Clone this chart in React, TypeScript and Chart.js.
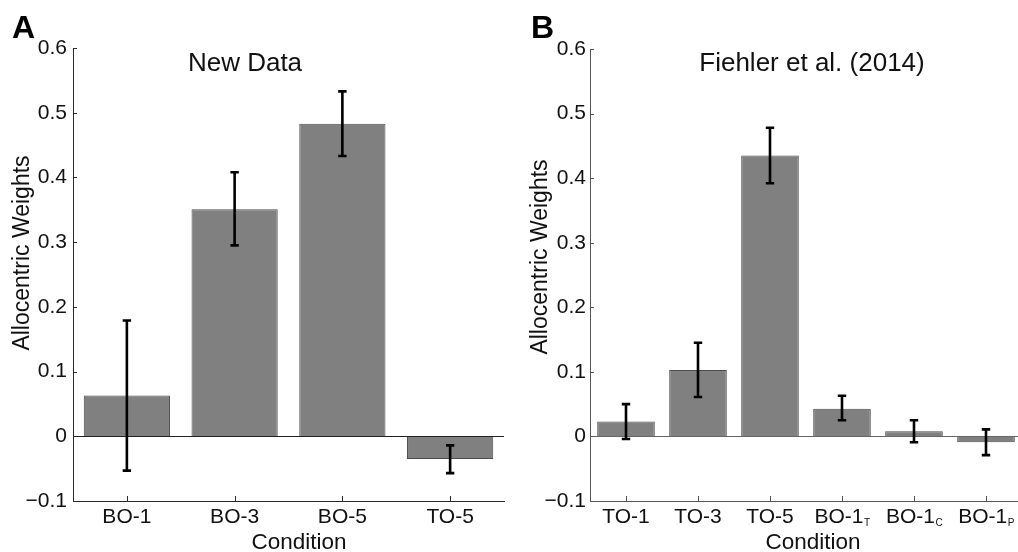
import React, { useEffect, useRef } from "react";
import { Chart, registerables } from "chart.js";

Chart.register(...registerables);

// ---------- data ----------
const conditionsA = ["BO-1", "BO-3", "BO-5", "TO-5"];
const weightsA = [0.063, 0.351, 0.483, -0.035];
const errLowA = [-0.053, 0.295, 0.433, -0.057];
const errHighA = [0.179, 0.408, 0.533, -0.014];

const conditionsB = ["TO-1", "TO-3", "TO-5", "BO-1_T", "BO-1_C", "BO-1_P"];
const weightsB = [0.023, 0.103, 0.435, 0.043, 0.008, -0.009];
const errLowB = [-0.004, 0.061, 0.392, 0.025, -0.009, -0.029];
const errHighB = [0.05, 0.145, 0.478, 0.063, 0.025, 0.011];

const yTicks = [-0.1, 0, 0.1, 0.2, 0.3, 0.4, 0.5, 0.6];
const yMin = -0.1;
const yMax = 0.6;

const FONT = "'Liberation Sans', Arial, Helvetica, sans-serif";
const TEXT = "#111";

type PanelDef = {
  letter: string;
  title: string;
  labels: string[];
  values: number[];
  low: number[];
  high: number[];
  width: number;
  left: number;
  yAxisWidth: number;
  padRight: number;
  padTop: number;
  yTickPad: number;
  axisColor: string;
  zeroColor: string;
  letterX: number;
  titleX: number;
  xTitleX: number;
  yTitleX: number;
  yTitleY: number;
};

const panels: PanelDef[] = [
  {
    letter: "A",
    title: "New Data",
    labels: conditionsA,
    values: weightsA,
    low: errLowA,
    high: errHighA,
    width: 509,
    left: 0,
    yAxisWidth: 73,
    padRight: 5,
    padTop: 48,
    yTickPad: 6,
    axisColor: "#2a2a2a",
    zeroColor: "#222",
    letterX: 12,
    titleX: 245,
    xTitleX: 299,
    yTitleX: 29,
    yTitleY: 253,
  },
  {
    letter: "B",
    title: "Fiehler et al. (2014)",
    labels: conditionsB,
    values: weightsB,
    low: errLowB,
    high: errHighB,
    width: 520,
    left: 509,
    yAxisWidth: 81,
    padRight: 7,
    padTop: 49,
    yTickPad: 4,
    axisColor: "#555",
    zeroColor: "#666",
    letterX: 22,
    titleX: 303,
    xTitleX: 304,
    yTitleX: 38,
    yTitleY: 257,
  },
];

function fmtTick(v: number): string {
  if (v === 0) return "0";
  if (v < 0) return "\u2212" + Math.abs(v).toFixed(1);
  return v.toFixed(1);
}

function drawCatLabel(ctx: CanvasRenderingContext2D, text: string, cx: number, baseline: number) {
  const [main, sub] = text.split("_");
  const mainFont = `21px ${FONT}`;
  const subFont = `10px ${FONT}`;
  ctx.font = mainFont;
  const wm = ctx.measureText(main).width;
  let ws = 0;
  if (sub) {
    ctx.font = subFont;
    ws = ctx.measureText(sub).width;
  }
  const x0 = cx - (wm + ws) / 2;
  ctx.textAlign = "left";
  ctx.textBaseline = "alphabetic";
  ctx.font = mainFont;
  ctx.fillText(main, x0, baseline);
  if (sub) {
    ctx.font = subFont;
    ctx.fillText(sub, x0 + wm + 0.5, baseline + 3);
  }
}

function makePlugin(p: PanelDef) {
  return {
    id: "decor" + p.letter,
    afterDatasetsDraw(chart: any) {
      const ctx: CanvasRenderingContext2D = chart.ctx;
      const x = chart.scales.x;
      const y = chart.scales.y;
      const area = chart.chartArea;
      ctx.save();
      // zero line
      const y0 = Math.round(y.getPixelForValue(0)) + 0.5;
      ctx.strokeStyle = p.zeroColor;
      ctx.lineWidth = 1;
      ctx.beginPath();
      ctx.moveTo(area.left, y0);
      ctx.lineTo(area.right, y0);
      ctx.stroke();
      // inward ticks
      ctx.strokeStyle = p.axisColor;
      ctx.beginPath();
      yTicks.forEach((v) => {
        const py = Math.round(y.getPixelForValue(v)) + 0.5;
        ctx.moveTo(area.left, py);
        ctx.lineTo(area.left + 4, py);
      });
      p.labels.forEach((_, i) => {
        const px = Math.round(x.getPixelForValue(i)) + 0.5;
        ctx.moveTo(px, area.bottom);
        ctx.lineTo(px, area.bottom - 5);
      });
      ctx.stroke();
      // error bars
      ctx.strokeStyle = "#000";
      ctx.lineWidth = 2.6;
      ctx.lineCap = "butt";
      p.labels.forEach((_, i) => {
        const px = x.getPixelForValue(i);
        const yl = y.getPixelForValue(p.low[i]);
        const yh = y.getPixelForValue(p.high[i]);
        ctx.beginPath();
        ctx.moveTo(px, yl);
        ctx.lineTo(px, yh);
        ctx.moveTo(px - 4.2, yl);
        ctx.lineTo(px + 4.2, yl);
        ctx.moveTo(px - 4.2, yh);
        ctx.lineTo(px + 4.2, yh);
        ctx.stroke();
      });
      ctx.restore();
    },
    afterDraw(chart: any) {
      const ctx: CanvasRenderingContext2D = chart.ctx;
      const x = chart.scales.x;
      ctx.save();
      ctx.fillStyle = TEXT;
      // category labels
      p.labels.forEach((lab, i) => {
        drawCatLabel(ctx, lab, x.getPixelForValue(i), 523);
      });
      // panel letter
      ctx.textAlign = "left";
      ctx.textBaseline = "alphabetic";
      ctx.font = `bold 32px ${FONT}`;
      ctx.fillStyle = "#000";
      ctx.fillText(p.letter, p.letterX, 38);
      ctx.fillStyle = TEXT;
      // title
      ctx.textAlign = "center";
      ctx.font = `26px ${FONT}`;
      ctx.fillText(p.title, p.titleX, 70.5);
      // x title
      ctx.font = `22.5px ${FONT}`;
      ctx.fillText("Condition", p.xTitleX, 549);
      // y title
      ctx.save();
      ctx.translate(p.yTitleX, p.yTitleY);
      ctx.rotate(-Math.PI / 2);
      ctx.textAlign = "center";
      ctx.font = `23px ${FONT}`;
      ctx.fillText("Allocentric Weights", 0, 0);
      ctx.restore();
      ctx.restore();
    },
  };
}

function Panel({ p }: { p: PanelDef }) {
  const ref = useRef<HTMLCanvasElement | null>(null);
  useEffect(() => {
    if (!ref.current) return;
    const chart = new Chart(ref.current, {
      type: "bar",
      data: {
        labels: p.labels,
        datasets: [
          {
            data: p.values,
            backgroundColor: "#808080",
            borderColor: "#4d4d4d",
            borderWidth: 1,
            barPercentage: 0.8,
            categoryPercentage: 1,
          },
        ],
      },
      options: {
        animation: false,
        responsive: false,
        devicePixelRatio: 1,
        layout: { padding: { left: 0, right: p.padRight, top: p.padTop, bottom: 0 } },
        plugins: {
          legend: { display: false },
          tooltip: { enabled: false },
          title: { display: false },
        },
        scales: {
          x: {
            type: "category",
            offset: true,
            grid: { display: false, drawTicks: false },
            border: { display: true, color: p.axisColor, width: 1 },
            ticks: { display: false },
            afterFit: (s: any) => {
              s.height = 51;
            },
          },
          y: {
            type: "linear",
            min: yMin,
            max: yMax,
            grid: { display: false, drawTicks: false },
            border: { display: true, color: p.axisColor, width: 1 },
            ticks: {
              padding: p.yTickPad,
              color: TEXT,
              font: { family: FONT, size: 21 },
              callback: (v: any) => fmtTick(Number(v)),
            },
            afterBuildTicks: (s: any) => {
              s.ticks = yTicks.map((v) => ({ value: v }));
            },
            afterFit: (s: any) => {
              s.width = p.yAxisWidth;
            },
          },
        },
      } as any,
      plugins: [makePlugin(p)],
    });
    return () => chart.destroy();
  }, [p]);
  return (
    <canvas
      ref={ref}
      width={p.width}
      height={552}
      style={{ position: "absolute", left: p.left, top: 0, width: p.width, height: 552 }}
    />
  );
}

export default function App() {
  return (
    <div
      style={{
        position: "fixed",
        left: 0,
        top: 0,
        width: 1018,
        height: 552,
        overflow: "hidden",
        background: "#fff",
      }}
    >
      {panels.map((p) => (
        <Panel key={p.letter} p={p} />
      ))}
    </div>
  );
}
